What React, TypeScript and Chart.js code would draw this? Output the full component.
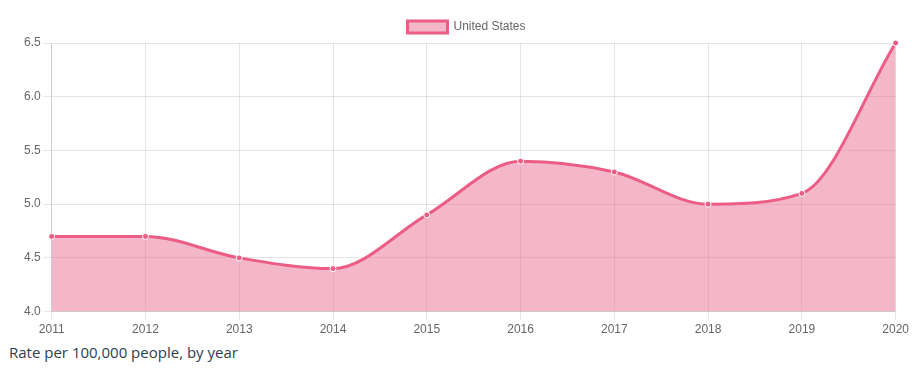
import React, { useEffect, useRef } from "react";
import { Chart, registerables } from "chart.js";

Chart.register(...registerables);

const years = ["2011", "2012", "2013", "2014", "2015", "2016", "2017", "2018", "2019", "2020"];
const usRates = [4.7, 4.7, 4.5, 4.4, 4.9, 5.4, 5.3, 5.0, 5.1, 6.5];
const seriesLabel = "United States";
const caption = "Rate per 100,000 people, by year";

export default function App() {
  const ref = useRef<HTMLCanvasElement | null>(null);
  useEffect(() => {
    if (!ref.current) return;
    const chart = new Chart(ref.current, {
      type: "line",
      data: {
        labels: years,
        datasets: [
          {
            label: seriesLabel,
            data: usRates,
            borderColor: "rgb(236,93,133)",
            backgroundColor: "rgba(233,112,150,0.5)",
            borderWidth: 3,
            fill: true,
            clip: false,
            cubicInterpolationMode: "monotone",
            pointRadius: 3,
            pointBackgroundColor: "rgb(236,93,133)",
            pointBorderColor: "#fff",
            pointBorderWidth: 1,
          },
        ],
      },
      options: {
        animation: false,
        responsive: true,
        maintainAspectRatio: false,
        layout: { padding: { left: 13, top: 3, right: 0 } },
        plugins: { legend: { display: true } },
        scales: {
          x: { grid: { color: "rgba(0,0,0,0.1)" } },
          y: { min: 4, max: 6.5, ticks: { stepSize: 0.5 }, grid: { color: "rgba(0,0,0,0.1)" } },
        },
      },
    });
    return () => chart.destroy();
  }, []);
  return (
    <div>
      <div style={{ position: "relative", height: 332 }}>
        <canvas ref={ref} />
      </div>
      <div style={{ fontFamily: "'Open Sans', sans-serif", fontSize: 15, color: "#2c3e50", marginTop: 2, paddingLeft: 1 }}>{caption}</div>
    </div>
  );
}
